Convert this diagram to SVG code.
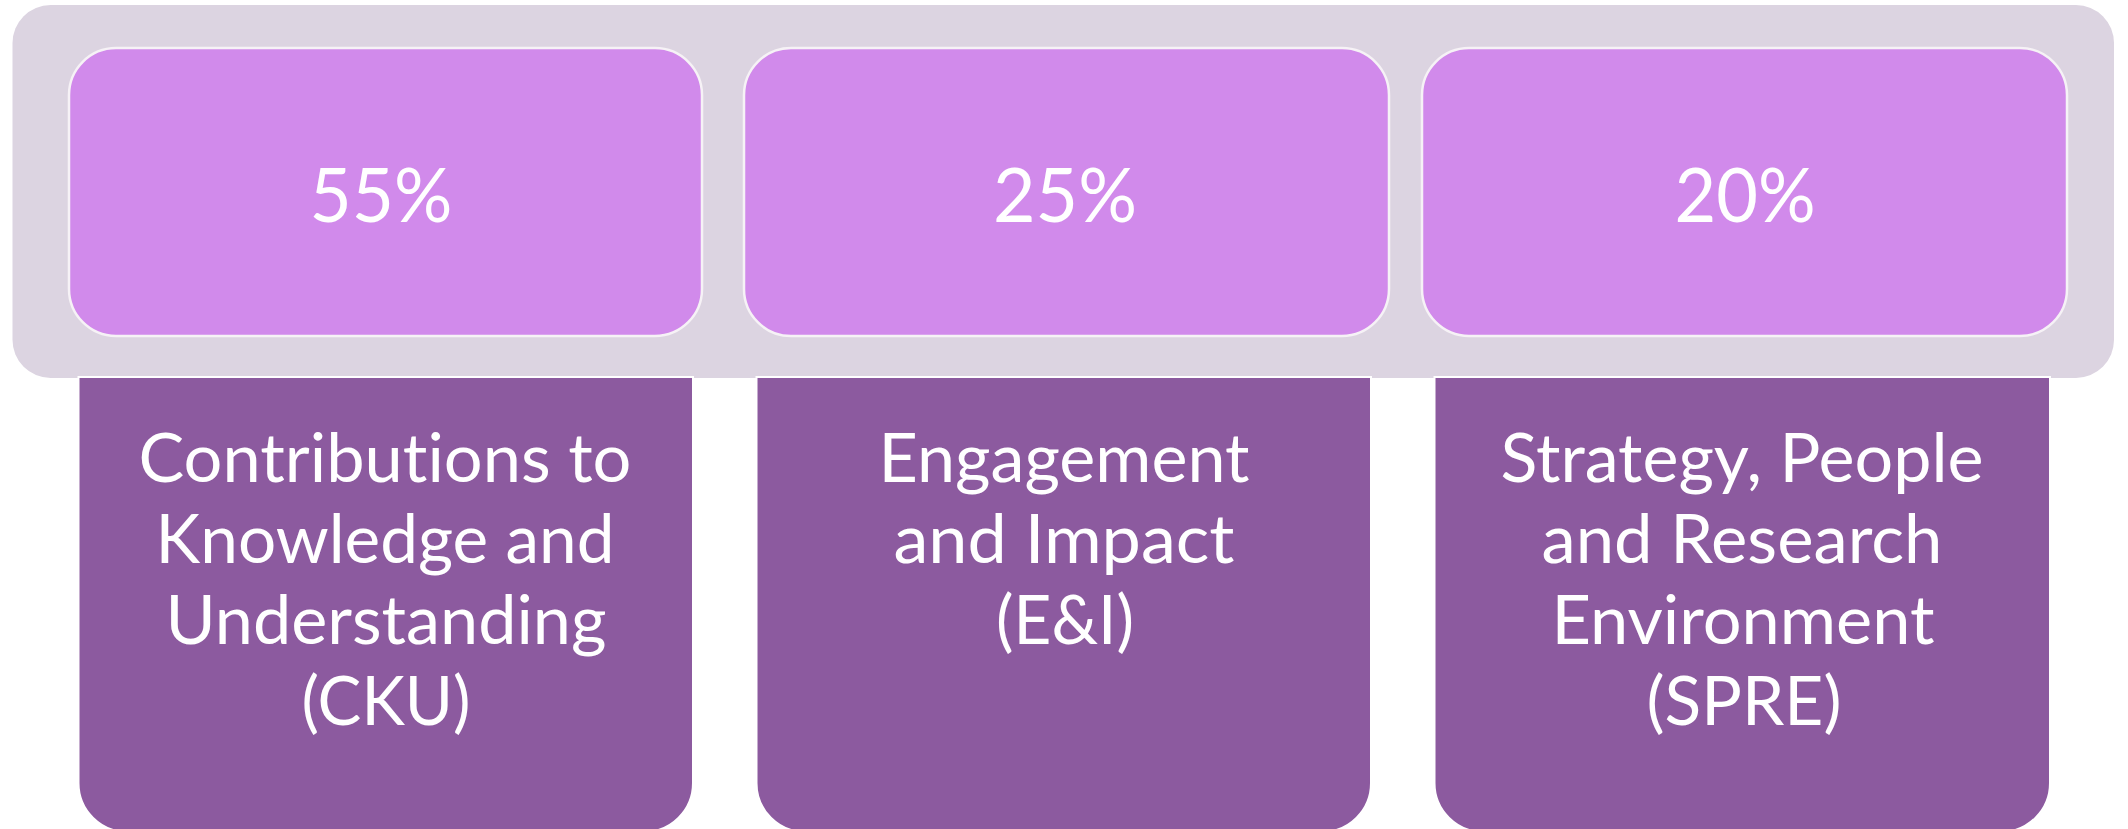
<svg xmlns="http://www.w3.org/2000/svg" width="2128" height="829" viewBox="0 0 2128 829">
  <style>
    .bg { fill: #DCD4E1; }
    .pct { fill: #D18AEB; stroke: #F6F2F6; stroke-width: 2.5; }
    .cat { fill: #8C5A9F; stroke: #FFFFFF; stroke-width: 2; }
    .t { font-family: Lato, "Open Sans", "Liberation Sans", sans-serif; fill: #FFFFFF; text-anchor: middle; font-variant-ligatures: none; font-feature-settings: "liga" 0, "clig" 0, "dlig" 0; }
    .tp { font-size: 76px; }
    .tc { font-size: 68px; }
  </style>
  <rect width="2128" height="829" fill="#FFFFFF"/>
  <g id="background">
    <rect class="bg" x="12.5" y="5" width="2101.5" height="373" rx="38" ry="38"/>
  </g>
  <g id="connectors"/>
  <g id="pct-cku">
    <rect class="pct" x="69" y="48" width="633" height="288" rx="47" ry="47"/>
    <text class="t tp" x="381" y="222" textLength="143" lengthAdjust="spacingAndGlyphs">55%</text>
  </g>
  <g id="pct-ei">
    <rect class="pct" x="744" y="48" width="645" height="288" rx="47" ry="47"/>
    <text class="t tp" x="1065" y="222" textLength="144" lengthAdjust="spacingAndGlyphs">25%</text>
  </g>
  <g id="pct-spre">
    <rect class="pct" x="1422" y="48" width="645" height="288" rx="47" ry="47"/>
    <text class="t tp" x="1745" y="222" textLength="141" lengthAdjust="spacingAndGlyphs">20%</text>
  </g>
  <g id="cat-cku">
    <path class="cat" d="M78.5,377 H693 V783 A49,49 0 0 1 644,832 H127.5 A49,49 0 0 1 78.5,783 Z"/>
    <text class="t tc" x="385" y="482" textLength="493" lengthAdjust="spacingAndGlyphs">Contributions to</text>
    <text class="t tc" x="385" y="563" textLength="459" lengthAdjust="spacingAndGlyphs">Knowledge and</text>
    <text class="t tc" x="386" y="644" textLength="441" lengthAdjust="spacingAndGlyphs">Understanding</text>
    <text class="t tc" x="386" y="725" textLength="169" lengthAdjust="spacingAndGlyphs">(CKU)</text>
  </g>
  <g id="cat-ei">
    <path class="cat" d="M756.5,377 H1371 V783 A49,49 0 0 1 1322,832 H805.5 A49,49 0 0 1 756.5,783 Z"/>
    <text class="t tc" x="1064" y="482" textLength="371" lengthAdjust="spacingAndGlyphs">Engagement</text>
    <text class="t tc" x="1064" y="563" textLength="341" lengthAdjust="spacingAndGlyphs">and Impact</text>
    <text class="t tc" x="1065" y="644" textLength="138" lengthAdjust="spacingAndGlyphs">(E&amp;I)</text>
  </g>
  <g id="cat-spre">
    <path class="cat" d="M1434.5,377 H2050 V783 A49,49 0 0 1 2001,832 H1483.5 A49,49 0 0 1 1434.5,783 Z"/>
    <text class="t tc" x="1742" y="482" textLength="483" lengthAdjust="spacingAndGlyphs">Strategy, People</text>
    <text class="t tc" x="1742" y="563" textLength="401" lengthAdjust="spacingAndGlyphs">and Research</text>
    <text class="t tc" x="1743" y="644" textLength="383" lengthAdjust="spacingAndGlyphs">Environment</text>
    <text class="t tc" x="1744" y="725" textLength="195" lengthAdjust="spacingAndGlyphs">(SPRE)</text>
  </g>
</svg>
